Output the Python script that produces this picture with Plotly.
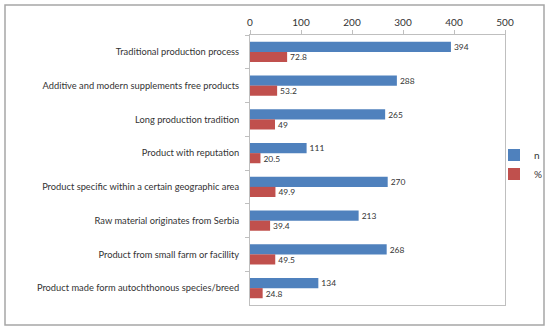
import plotly.graph_objects as go

categories = [
    "Traditional production process",
    "Additive and modern supplements free products",
    "Long production tradition",
    "Product with reputation",
    "Product specific within a certain geographic area",
    "Raw material originates from Serbia",
    "Product from small farm or facillity",
    "Product made form autochthonous species/breed",
]
n_values = [394, 288, 265, 111, 270, 213, 268, 134]
pct_values = [72.8, 53.2, 49, 20.5, 49.9, 39.4, 49.5, 24.8]
x_ticks = [0, 100, 200, 300, 400, 500]

W, H = 550, 331
L, R, T, B = 250, 45, 35, 26
pw, ph = W - L - R, H - T - B

font = "Lato"
fig = go.Figure()
fig.add_trace(go.Bar(
    y=categories, x=n_values, name="n", orientation="h",
    marker=dict(color="#4F81BD", line=dict(width=0)),
    text=[str(v) for v in n_values], textposition="outside",
    textfont=dict(size=10, color="#333333", family=font), cliponaxis=False,
))
fig.add_trace(go.Bar(
    y=categories, x=pct_values, name="%", orientation="h",
    marker=dict(color="#C0504D", line=dict(width=0)),
    text=[str(v) for v in pct_values], textposition="outside",
    textfont=dict(size=10, color="#333333", family=font), cliponaxis=False,
))

def px2paper_x(px):
    return (px - L) / pw

def px2paper_y(py):
    return 1 - (py - T) / ph

fig.update_layout(
    width=W, height=H,
    margin=dict(l=L, r=R, t=T, b=B, pad=0, autoexpand=False),
    paper_bgcolor="white", plot_bgcolor="white",
    barmode="group", bargap=0.4, bargroupgap=0,
    font=dict(family=font, size=9.3, color="#333333"),
    showlegend=True,
    legend=dict(x=px2paper_x(494), y=0.52, xanchor="left", yanchor="middle",
                font=dict(size=10, family=font, color="#333333"),
                itemwidth=30, tracegroupgap=0, bgcolor="rgba(0,0,0,0)"),
    xaxis=dict(side="top", range=[0, 500], tickvals=x_ticks,
               showgrid=False, zeroline=False,
               showline=True, linecolor="#BFBFBF", linewidth=1, mirror=True,
               ticks="outside", ticklen=4, tickcolor="#BFBFBF",
               tickfont=dict(size=10, color="#333333", family=font)),
    yaxis=dict(autorange="reversed", type="category", tickson="boundaries",
               showgrid=False, showline=True, linecolor="#BFBFBF", linewidth=1,
               mirror=True, ticks="outside", ticklen=4, tickcolor="#BFBFBF",
               ticklabelstandoff=8,
               tickfont=dict(size=9.3, color="#333333", family=font)),
    shapes=[dict(type="rect", xref="paper", yref="paper",
                 x0=px2paper_x(5), x1=px2paper_x(544),
                 y0=px2paper_y(325), y1=px2paper_y(5),
                 line=dict(color="#A6A6A6", width=1.5), layer="below")],
)

fig.write_html("out.html", config={"displayModeBar": False},
               post_script="document.body.style.margin='0';document.body.style.overflow='hidden';")
